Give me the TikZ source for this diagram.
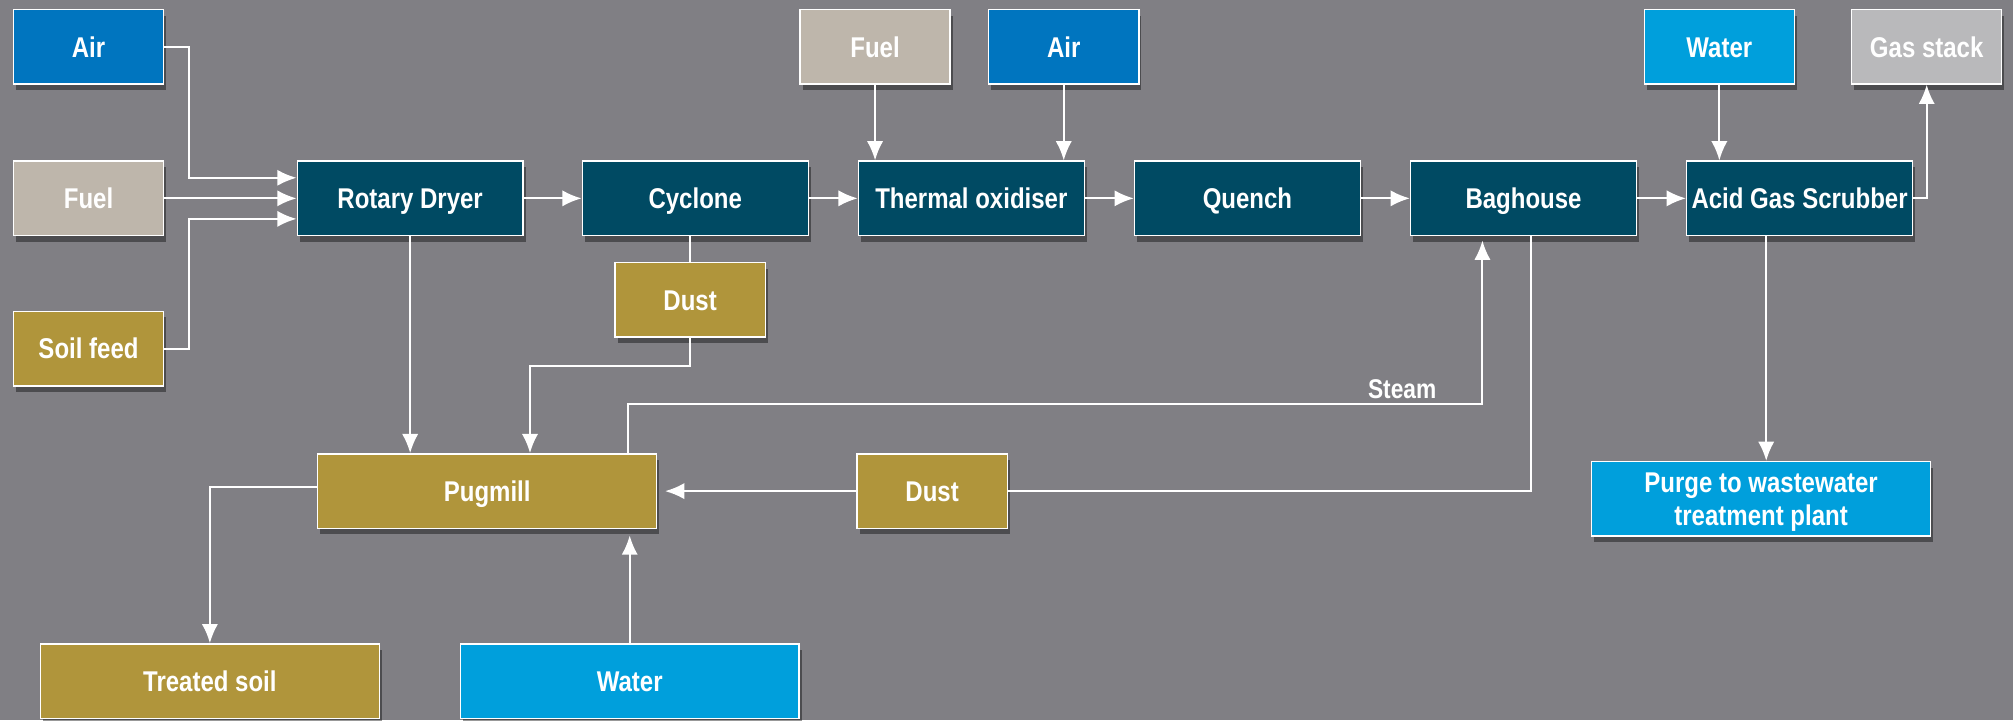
\documentclass[tikz,border=0pt]{standalone}
\usepackage{fontspec}
\setmainfont{Liberation Sans}[FakeStretch=0.84]
\usepackage{tikz}
\usetikzlibrary{positioning, arrows.meta, shadows}

\definecolor{bggrey}{RGB}{128,127,132}
\definecolor{unitteal}{RGB}{0,74,99}
\definecolor{airblue}{RGB}{0,117,191}
\definecolor{waterblue}{RGB}{0,159,220}
\definecolor{fuelbeige}{RGB}{190,182,171}
\definecolor{soilgold}{RGB}{176,149,59}
\definecolor{stackgrey}{RGB}{185,185,187}

\begin{document}
\begin{tikzpicture}[
        box/.style={rectangle, draw=white, line width=0.9pt, text=white, align=center, minimum height=1.74cm, inner sep=2pt, text height=0.48cm, text depth=0pt, font=\bfseries\fontsize{19}{22}\selectfont, drop shadow={shadow xshift=0.06cm, shadow yshift=-0.14cm, opacity=0.4, fill=black}},
        feed/.style={box, minimum width=3.51cm},
        unit/.style={box, fill=unitteal, minimum width=5.28cm},
        wide/.style={box, minimum width=7.92cm},
        pipe/.style={white, line width=1.4pt},
        arrow/.style={pipe, -{Latex[length=0.45cm, width=0.38cm]}}
    ]

    \path[use as bounding box, fill=bggrey] (0,0) rectangle (47.04,-16.83);

    % Main process line
    \node[unit] (dryer) at (9.585,-4.635) {Rotary Dryer};
    \node[unit, right=1.35cm of dryer] (cyclone) {Cyclone};
    \node[unit, right=1.14cm of cyclone] (oxidiser) {Thermal oxidiser};
    \node[unit, right=1.14cm of oxidiser] (quench) {Quench};
    \node[unit, right=1.14cm of quench] (baghouse) {Baghouse};
    \node[unit, right=1.14cm of baghouse] (scrubber) {Acid Gas Scrubber};

    % Dryer feeds (left)
    \node[feed, fill=fuelbeige, left=3.09cm of dryer] (fuelA) {Fuel};
    \node[feed, fill=airblue, above=1.77cm of fuelA] (airA) {Air};
    \node[feed, fill=soilgold, below=1.74cm of fuelA] (soil) {Soil feed};

    % Cyclone dust
    \node[feed, fill=soilgold, below=0.6cm of cyclone, xshift=-0.12cm] (dustA) {Dust};

    % Oxidiser feeds (top)
    \node[feed, fill=fuelbeige, above=1.77cm of oxidiser, xshift=-2.25cm] (fuelB) {Fuel};
    \node[feed, fill=airblue, above=1.77cm of oxidiser, xshift=2.16cm] (airB) {Air};

    % Scrubber in/out
    \node[feed, fill=waterblue, above=1.77cm of scrubber, xshift=-1.875cm] (waterA) {Water};
    \node[feed, fill=stackgrey, above=1.77cm of scrubber, xshift=2.97cm] (stack) {Gas stack};
    \node[wide, fill=waterblue, text height={}, below=5.25cm of scrubber, xshift=-0.9cm] (purge) {Purge to wastewater\\treatment plant};

    % Pugmill branch (bottom)
    \node[wide, fill=soilgold, below=5.07cm of dryer, xshift=1.8cm] (pugmill) {Pugmill};
    \node[feed, fill=soilgold, right=4.65cm of pugmill] (dustB) {Dust};
    \node[wide, fill=soilgold, below=2.67cm of pugmill, xshift=-6.48cm] (soilout) {Treated soil};
    \node[wide, fill=waterblue, below=2.67cm of pugmill, xshift=3.33cm] (waterB) {Water};

    \coordinate (purgein) at ([xshift=0.12cm]purge.north);

    % Arrows
    \draw[arrow] (airA.east) -- ++(0.57,0) |- ([yshift=0.48cm]dryer.west);
    \draw[arrow] (fuelA) -- (dryer);
    \draw[arrow] (soil.east) -- ++(0.57,0) |- ([yshift=-0.48cm]dryer.west);
    \draw[arrow] (dryer) -- (cyclone);
    \draw[arrow] (cyclone) -- (oxidiser);
    \draw[arrow] (oxidiser) -- (quench);
    \draw[arrow] (quench) -- (baghouse);
    \draw[arrow] (baghouse) -- (scrubber);
    \draw[arrow] (fuelB) -- (fuelB |- oxidiser.north);
    \draw[arrow] (airB) -- (airB |- oxidiser.north);
    \draw[arrow] (waterA) -- (waterA |- scrubber.north);
    \draw[arrow] (scrubber.east) -| (stack.south);
    \draw[arrow] (purgein |- scrubber.south) -- (purgein);
    \draw[pipe] (cyclone.south -| dustA.north) -- (dustA.north);
    \draw[arrow] (dustA.south) -- ++(0,-0.66) -| ([xshift=1cm]pugmill.north);
    \draw[arrow] (dryer.south) -- (dryer.south |- pugmill.north);
    \draw[arrow, shorten >=0.1cm] ([xshift=3.3cm]pugmill.north) -- ++(0,1.14) -| node[pos=0.453, above, text=white, font=\bfseries\fontsize{18}{21}\selectfont] (steam) {Steam} ([xshift=-0.96cm]baghouse.south);
    \draw[pipe] ([xshift=0.18cm]baghouse.south) |- (dustB.east);
    \draw[arrow, shorten >=0.18cm] (dustB) -- (pugmill);
    \draw[arrow] ([yshift=0.09cm]pugmill.west) -| (soilout.north);
    \draw[arrow, shorten >=0.15cm] (waterB) -- (waterB |- pugmill.south);

\end{tikzpicture}
\end{document}
